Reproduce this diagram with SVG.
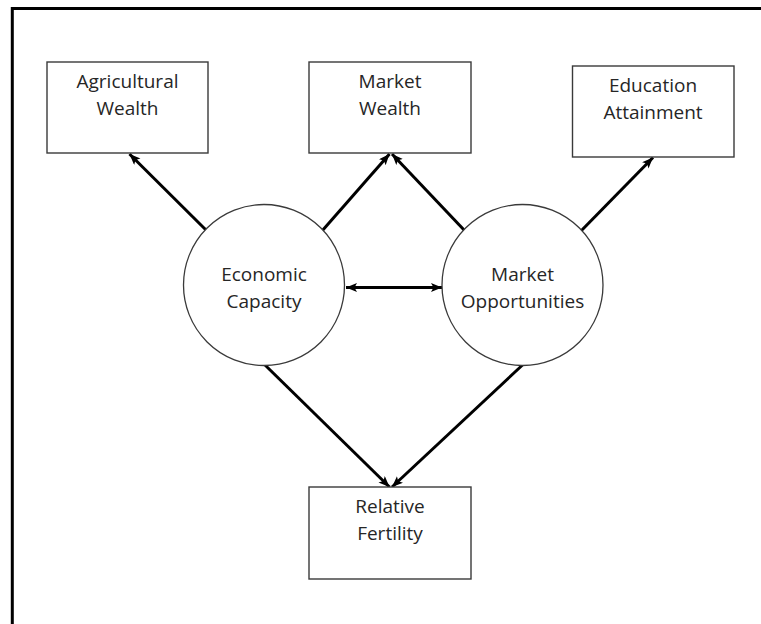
<svg xmlns="http://www.w3.org/2000/svg" width="761" height="624" viewBox="0 0 761 624">
  <style>
    .box { fill: #ffffff; stroke: #3a3a3a; stroke-width: 1.4; }
    .latent { fill: #ffffff; stroke: #3a3a3a; stroke-width: 1.3; }
    .label { font-family: "Open Sans", "Noto Sans", sans-serif; font-size: 19px; fill: #262626; text-anchor: middle; }
    .edge { stroke: #000000; stroke-width: 3; fill: none; marker-end: url(#head); }
    .frame { stroke: #000000; stroke-width: 3; fill: none; }
  </style>
  <defs>
    <marker id="head" markerUnits="userSpaceOnUse" markerWidth="12" markerHeight="10" refX="11" refY="4.5" orient="auto">
      <path d="M0,0 L11,4.5 L0,9 L2.5,4.5 z" fill="#000000"/>
    </marker>
    <marker id="tail" markerUnits="userSpaceOnUse" markerWidth="12" markerHeight="10" refX="0" refY="4.5" orient="auto">
      <path d="M11,0 L0,4.5 L11,9 L8.5,4.5 z" fill="#000000"/>
    </marker>
  </defs>

  <rect width="761" height="624" fill="#ffffff"/>
  <!-- page frame: left and top rules only -->
  <path class="frame" d="M12.3,624 V8.5 H761"/>

  <g id="connectors">
    <line class="edge" x1="207" y1="231" x2="129.5" y2="154"/>
    <line class="edge" x1="322" y1="231" x2="389.5" y2="154"/>
    <line class="edge" x1="465" y1="231" x2="392" y2="154"/>
    <line class="edge" x1="579.5" y1="232.5" x2="653" y2="157.5"/>
    <line class="edge" x1="346" y1="287.5" x2="442" y2="287.5" marker-start="url(#tail)"/>
    <line class="edge" x1="265" y1="365" x2="389.5" y2="487"/>
    <line class="edge" x1="522.5" y1="365" x2="392" y2="487"/>
  </g>

  <g id="agricultural-wealth">
    <rect class="box" x="47" y="62" width="161" height="91"/>
    <text class="label" x="127.5" y="88">Agricultural</text>
    <text class="label" x="127.5" y="115">Wealth</text>
  </g>

  <g id="market-wealth">
    <rect class="box" x="309" y="62" width="162" height="91"/>
    <text class="label" x="390" y="88">Market</text>
    <text class="label" x="390" y="115">Wealth</text>
  </g>

  <g id="education-attainment">
    <rect class="box" x="572.5" y="66" width="161.5" height="91"/>
    <text class="label" x="653" y="92">Education</text>
    <text class="label" x="653" y="119">Attainment</text>
  </g>

  <g id="economic-capacity">
    <circle class="latent" cx="264" cy="285" r="80.5"/>
    <text class="label" x="264" y="281">Economic</text>
    <text class="label" x="264" y="308">Capacity</text>
  </g>

  <g id="market-opportunities">
    <circle class="latent" cx="522.5" cy="285" r="80.5"/>
    <text class="label" x="522.5" y="281">Market</text>
    <text class="label" x="522.5" y="308">Opportunities</text>
  </g>

  <g id="relative-fertility">
    <rect class="box" x="309" y="487" width="162" height="92"/>
    <text class="label" x="390" y="513">Relative</text>
    <text class="label" x="390" y="540">Fertility</text>
  </g>
</svg>
